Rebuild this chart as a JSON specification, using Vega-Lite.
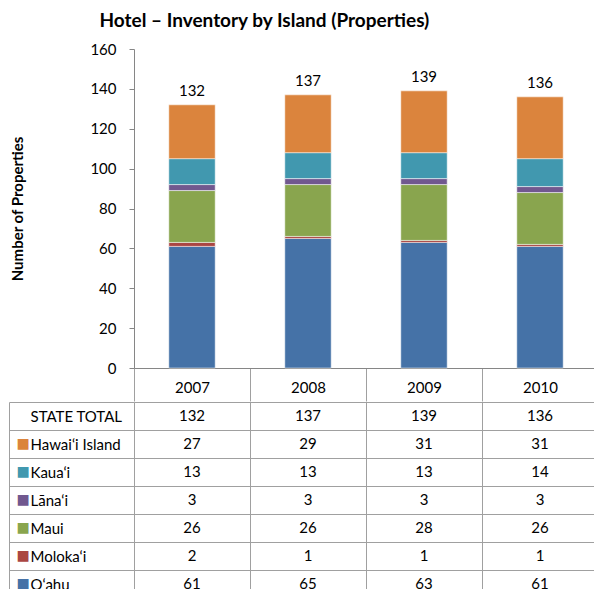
{
  "$schema": "https://vega.github.io/schema/vega-lite/v6.json",
  "padding": {"left": 8, "top": 12, "right": 0, "bottom": 0},
  "title": {"text": "Hotel – Inventory by Island  (Properties)", "font": "Lato", "fontSize": 19, "fontWeight": "bold", "anchor": "start", "dx": 91, "offset": 11, "color": "black"},
  "config": {
    "view": {"stroke": null},
    "font": "Lato",
    "axis": {"labelFont": "Lato", "titleFont": "Lato", "labelColor": "black", "titleColor": "black"},
    "text": {"font": "Lato"}
  },
  "datasets": {
    "d": [
      {"year": "2007", "island": "O‘ahu", "count": 61},
      {"year": "2007", "island": "Moloka‘i", "count": 2},
      {"year": "2007", "island": "Maui", "count": 26},
      {"year": "2007", "island": "Lāna‘i", "count": 3},
      {"year": "2007", "island": "Kaua‘i", "count": 13},
      {"year": "2007", "island": "Hawai‘i Island", "count": 27},
      {"year": "2008", "island": "O‘ahu", "count": 65},
      {"year": "2008", "island": "Moloka‘i", "count": 1},
      {"year": "2008", "island": "Maui", "count": 26},
      {"year": "2008", "island": "Lāna‘i", "count": 3},
      {"year": "2008", "island": "Kaua‘i", "count": 13},
      {"year": "2008", "island": "Hawai‘i Island", "count": 29},
      {"year": "2009", "island": "O‘ahu", "count": 63},
      {"year": "2009", "island": "Moloka‘i", "count": 1},
      {"year": "2009", "island": "Maui", "count": 28},
      {"year": "2009", "island": "Lāna‘i", "count": 3},
      {"year": "2009", "island": "Kaua‘i", "count": 13},
      {"year": "2009", "island": "Hawai‘i Island", "count": 31},
      {"year": "2010", "island": "O‘ahu", "count": 61},
      {"year": "2010", "island": "Moloka‘i", "count": 1},
      {"year": "2010", "island": "Maui", "count": 26},
      {"year": "2010", "island": "Lāna‘i", "count": 3},
      {"year": "2010", "island": "Kaua‘i", "count": 14},
      {"year": "2010", "island": "Hawai‘i Island", "count": 31}
    ]
  },
  "spacing": -7,
  "vconcat": [
    {
      "width": 464,
      "height": 319,
      "data": {"name": "d"},
      "encoding": {
        "x": {"field": "year", "type": "nominal", "scale": {"paddingInner": 0, "paddingOuter": 0},
          "axis": {"title": null, "tickBand": "extent", "tickSize": 33, "tickColor": "#a0a0a0", "domainColor": "#868686", "labelAngle": 0, "labelPadding": -21, "labelFontSize": 15}},
        "y": {"field": "count", "type": "quantitative", "scale": {"domain": [0, 160]},
          "axis": {"title": "Number of Properties", "titleFontSize": 15, "titleFontWeight": "bold", "titlePadding": 64, "values": [0, 20, 40, 60, 80, 100, 120, 140, 160], "labelOverlap": false, "grid": false, "domainColor": "#868686", "tickColor": "#868686", "tickSize": 5, "labelPadding": 13, "labelFontSize": 15}}
      },
      "layer": [
        {
          "mark": {"type": "bar", "width": {"band": 0.4}, "stroke": "white", "strokeWidth": 1, "strokeOpacity": 0.5},
          "encoding": {
            "color": {"field": "island", "type": "nominal",
              "scale": {"domain": ["O‘ahu", "Moloka‘i", "Maui", "Lāna‘i", "Kaua‘i", "Hawai‘i Island"], "range": ["#4572A7", "#AA4643", "#89A54E", "#71588F", "#4198AF", "#DB843D"]},
              "legend": null},
            "order": {"field": "island", "sort": "descending"}
          }
        },
        {
          "transform": [{"aggregate": [{"op": "sum", "field": "count", "as": "count"}], "groupby": ["year"]}],
          "mark": {"type": "text", "dy": -9, "baseline": "alphabetic", "fontSize": 15, "color": "black"},
          "encoding": {
            "text": {"field": "count", "type": "quantitative"}
          }
        }
      ]
    },
    {
      "width": 464,
      "height": 196,
      "data": {"name": "d"},
      "layer": [
        {
          "mark": {"type": "text", "fontSize": 15, "color": "black"},
          "encoding": {
            "x": {"field": "year", "type": "nominal", "scale": {"paddingInner": 0, "paddingOuter": 0},
              "axis": {"title": null, "grid": true, "tickBand": "extent", "gridColor": "#a0a0a0", "labels": false, "ticks": false, "domain": false}},
            "y": {"field": "island", "type": "nominal",
              "scale": {"domain": ["STATE TOTAL", "Hawai‘i Island", "Kaua‘i", "Lāna‘i", "Maui", "Moloka‘i", "O‘ahu"], "paddingInner": 0, "paddingOuter": 0},
              "axis": {"title": null, "orient": "left", "tickBand": "extent", "tickSize": 125, "tickColor": "#a0a0a0", "grid": true, "gridColor": "#a0a0a0", "domain": false, "labelAlign": "left", "labelPadding": -21, "labelFontSize": 15, "labelBaseline": "middle", "labelLimit": 0}},
            "text": {"field": "count", "type": "quantitative"}
          }
        },
        {
          "transform": [{"aggregate": [{"op": "sum", "field": "count", "as": "total"}], "groupby": ["year"]}],
          "mark": {"type": "text", "fontSize": 15, "color": "black"},
          "encoding": {
            "x": {"field": "year", "type": "nominal"},
            "y": {"datum": "STATE TOTAL", "type": "nominal",
              "scale": {"domain": ["STATE TOTAL", "Hawai‘i Island", "Kaua‘i", "Lāna‘i", "Maui", "Moloka‘i", "O‘ahu"], "paddingInner": 0, "paddingOuter": 0},
              "axis": {"title": null, "orient": "left", "offset": 125, "domain": true, "domainColor": "#a0a0a0", "ticks": false, "tickSize": 0, "grid": false,
                "labelExpr": "datum.value == 'STATE TOTAL' ? '' : '■'", "labelFont": "DejaVu Sans", "labelFontSize": 14, "labelAlign": "left", "labelPadding": -7, "labelBaseline": "middle",
                "labelColor": {"expr": "datum.value == 'O‘ahu' ? '#4572A7' : datum.value == 'Moloka‘i' ? '#AA4643' : datum.value == 'Maui' ? '#89A54E' : datum.value == 'Lāna‘i' ? '#71588F' : datum.value == 'Kaua‘i' ? '#4198AF' : '#DB843D'"}}},
            "text": {"field": "total", "type": "quantitative"}
          }
        }
      ],
      "resolve": {"axis": {"y": "independent"}}
    }
  ]
}
